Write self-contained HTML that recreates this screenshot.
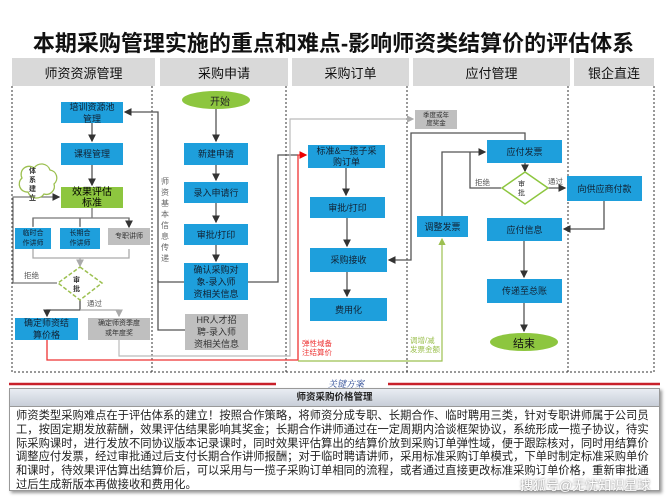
<!DOCTYPE html>
<html><head><meta charset="utf-8"><style>
*{margin:0;padding:0;box-sizing:border-box}
body{width:667px;height:500px;background:#fff;position:relative;overflow:hidden;font-family:"Liberation Sans","Noto Sans CJK SC",sans-serif}
.a{position:absolute}
.hd{position:absolute;top:58px;height:28px;background:#d9d9d9;font-size:13px;display:flex;align-items:center;justify-content:center;color:#111}
.b{position:absolute;background:#1e9fdc;color:#123;font-size:9px;display:flex;align-items:center;justify-content:center;text-align:center;line-height:12px}
.g{background:#bfbfbf;color:#333;font-size:8px}
.gr{background:#8dc63f;color:#000;font-size:10px}
.t{position:absolute;font-size:7.5px;color:#555}
</style></head><body>
<div class="a" style="left:0;top:26px;width:667px;text-align:center;font-size:22px;font-weight:bold;color:#111">本期采购管理实施的重点和难点-影响师资类结算价的评估体系</div>
<div class="hd" style="left:12px;width:143px">师资资源管理</div>
<div class="hd" style="left:160px;width:128px">采购申请</div>
<div class="hd" style="left:292px;width:117px">采购订单</div>
<div class="hd" style="left:413px;width:157px">应付管理</div>
<div class="hd" style="left:574px;width:80px">银企直连</div>
<svg class="a" style="left:0;top:0" width="667" height="500">
<defs>
<marker id="k" markerWidth="6" markerHeight="6" refX="5" refY="3" orient="auto"><path d="M0,0L6,3L0,6z" fill="#333"/></marker>
<marker id="r" markerWidth="6" markerHeight="6" refX="5" refY="3" orient="auto"><path d="M0,0L6,3L0,6z" fill="#e00"/></marker>
<marker id="l" markerWidth="6" markerHeight="6" refX="5" refY="3" orient="auto"><path d="M0,0L6,3L0,6z" fill="#aaa"/></marker>
<marker id="n" markerWidth="6" markerHeight="6" refX="5" refY="3" orient="auto"><path d="M0,0L6,3L0,6z" fill="#9cc050"/></marker>
</defs>
<g stroke="#333" stroke-width="1" stroke-dasharray="2,2" fill="none">
<path d="M12,86V372H654V86M152,86V372M286,86V372M407,86V372M568,86V372"/>
</g>
<g stroke="#555" stroke-width="1.3" fill="none">
<path d="M92,123V141" marker-end="url(#k)"/><path d="M92,165V185" marker-end="url(#k)"/>
<path d="M92,208V218M33,226V218H129V226M80,218V226" stroke="#777" />
<path d="M33,218V227M80,218V227M129,218V227" stroke="#777" marker-end="url(#k)"/>
<path d="M33,249V258H129V249M80,258V266" stroke="#aaa" marker-end="url(#l)"/>
<path d="M57,283H13V197H59" stroke="#777" marker-end="url(#k)"/>
<path d="M80,300V310H47V316" marker-end="url(#k)"/>
<path d="M80,310H119V316" stroke="#aaa" marker-end="url(#l)"/>
<path d="M216,108V141" marker-end="url(#k)"/><path d="M216,165V180" marker-end="url(#k)"/>
<path d="M216,203V222" marker-end="url(#k)"/><path d="M216,245V261" marker-end="url(#k)"/>
<path d="M184,282H158V112H125" marker-end="url(#k)"/>
<path d="M185,330H158V280"/>
<path d="M248,282H278V155H298"/>
<path d="M346,168V195" marker-end="url(#k)"/><path d="M347,218V246" marker-end="url(#k)"/>
<path d="M347,272V296" marker-end="url(#k)"/>
<path d="M525,140V133H411V260H389" marker-end="url(#k)"/>
<path d="M442,216V152H485" marker-end="url(#k)"/>
<path d="M501,188H470V152"/>
<path d="M525,163V171" marker-end="url(#k)"/>
<path d="M548,188H565" marker-end="url(#k)"/>
<path d="M604,201V229H564" marker-end="url(#k)"/>
<path d="M524,241V277" marker-end="url(#k)"/><path d="M524,303V331" marker-end="url(#k)"/>
</g>
<path d="M119,340V356H290V119H413" stroke="#bbb" stroke-width="1.2" fill="none" marker-end="url(#l)"/>
<path d="M47,340V360H298V155H306" stroke="#e33" stroke-width="1.3" fill="none" marker-end="url(#r)"/>
<path d="M298,361H442V239" stroke="#9cc050" stroke-width="1.2" fill="none" marker-end="url(#n)"/>
<ellipse cx="216" cy="100" rx="34" ry="9" fill="#8dc63f"/>
<ellipse cx="524" cy="342" rx="34" ry="9" fill="#8dc63f"/>
<path d="M80,267L102,283L80,300L58,283z" fill="#fff" stroke="#9cc050" stroke-width="1.5" stroke-dasharray="4,2"/>
<path d="M525,172L548,188L525,204L502,188z" fill="#fff" stroke="#8dc63f" stroke-width="1.5"/>
<path d="M22,178a8,8 0 0 1 12,-10a9,9 0 0 1 16,2a8,8 0 0 1 4,14a8,8 0 0 1 -10,10a9,9 0 0 1 -16,-2a8,8 0 0 1 -6,-14z" fill="#fff" stroke="#9cc050" stroke-width="1.3"/>
<path d="M9,384H276M388,384H660" stroke="#c8202a" stroke-width="2.5"/>
</svg>
<div class="t" style="left:29px;top:167px;font-size:7px;width:12px;line-height:9px;color:#333;font-weight:bold">体系建立</div>
<div class="b" style="left:61px;top:102px;width:62px;height:21px">培训资源池<br>管理</div>
<div class="b" style="left:61px;top:143px;width:62px;height:22px">课程管理</div>
<div class="b gr" style="left:61px;top:187px;width:62px;height:21px;line-height:11px">效果评估<br>标准</div>
<div class="b" style="left:15px;top:228px;width:36px;height:21px;font-size:7px;line-height:10px">临时合<br>作讲师</div>
<div class="b" style="left:60px;top:228px;width:40px;height:21px;font-size:7px;line-height:10px">长期合<br>作讲师</div>
<div class="b g" style="left:108px;top:228px;width:42px;height:17px;font-size:7px">专职讲师</div>
<div class="t" style="left:73px;top:276px;font-size:7px;color:#333;font-weight:bold;line-height:9px">审<br>批</div>
<div class="t" style="left:24px;top:270px">拒绝</div>
<div class="t" style="left:87px;top:298px">通过</div>
<div class="b" style="left:15px;top:318px;width:63px;height:22px">确定师资结<br>算价格</div>
<div class="b g" style="left:88px;top:318px;width:62px;height:22px;font-size:7px;line-height:10px">确定师资季度<br>或年度奖</div>
<div class="a" style="left:210px;top:93px;font-size:10px;color:#222">开始</div>
<div class="b" style="left:184px;top:143px;width:64px;height:22px">新建申请</div>
<div class="b" style="left:184px;top:182px;width:64px;height:21px">录入申请行</div>
<div class="b" style="left:184px;top:224px;width:64px;height:21px">审批/打印</div>
<div class="b" style="left:184px;top:263px;width:64px;height:37px">确认采购对<br>象-录入师<br>资相关信息</div>
<div class="b g" style="left:185px;top:314px;width:63px;height:36px;font-size:9px">HR人才招<br>聘-录入师<br>资相关信息</div>
<div class="t" style="left:161px;top:176px;width:10px;font-size:8px;line-height:11px;color:#666">师资基本信息传递</div>
<div class="b" style="left:308px;top:145px;width:77px;height:23px;line-height:11px">标准&amp;一揽子采<br>购订单</div>
<div class="b" style="left:310px;top:197px;width:75px;height:21px">审批/打印</div>
<div class="b" style="left:310px;top:248px;width:77px;height:24px">采购接收</div>
<div class="b" style="left:310px;top:298px;width:77px;height:23px">费用化</div>
<div class="t" style="left:302px;top:339px;color:#e33;line-height:9px">弹性域备<br>注结算价</div>
<div class="b g" style="left:415px;top:110px;width:42px;height:19px;font-size:6.5px;line-height:8px">季度或年<br>度奖金</div>
<div class="b" style="left:487px;top:140px;width:75px;height:23px">应付发票</div>
<div class="t" style="left:518px;top:180px;font-size:7px;color:#333;line-height:9px">审<br>批</div>
<div class="t" style="left:475px;top:177px">拒绝</div>
<div class="t" style="left:548px;top:176px">通过</div>
<div class="b" style="left:417px;top:216px;width:51px;height:21px">调整发票</div>
<div class="b" style="left:487px;top:218px;width:75px;height:23px">应付信息</div>
<div class="b" style="left:487px;top:279px;width:75px;height:24px">传递至总账</div>
<div class="a" style="left:513px;top:335px;font-size:11px;color:#111">结束</div>
<div class="t" style="left:410px;top:336px;color:#9cc050;line-height:9px">调增/减<br>发票金额</div>
<div class="b" style="left:567px;top:176px;width:75px;height:25px">向供应商付款</div>
<div class="a" style="left:316px;top:377px;width:60px;text-align:center;font-size:9px;font-style:italic;color:#1f3f8f;font-family:'Liberation Serif','Noto Serif CJK SC',serif">关键方案</div>
<div class="a" style="left:9px;top:388px;width:651px;height:103px;border:1px solid #999;box-shadow:2px 2px 3px #999"></div>
<div class="a" style="left:10px;top:389px;width:649px;height:18px;background:linear-gradient(#e9edf3,#c8ced8);border-bottom:1px solid #999;text-align:center;font-size:9.5px;font-weight:bold;line-height:18px;color:#222">师资采购价格管理</div>
<div class="a" style="left:16px;top:410px;width:642px;font-size:11.3px;line-height:13.8px;color:#222">师资类型采购难点在于评估体系的建立！按照合作策略，将师资分成专职、长期合作、临时聘用三类，针对专职讲师属于公司员工，按固定期发放薪酬，效果评估结果影响其奖金；长期合作讲师通过在一定周期内洽谈框架协议，系统形成一揽子协议，待实际采购课时，进行发放不同协议版本记录课时，同时效果评估算出的结算价放到采购订单弹性域，便于跟踪核对，同时用结算价调整应付发票，经过审批通过后支付长期合作讲师报酬；对于临时聘请讲师，采用标准采购订单模式，下单时制定标准采购单价和课时，待效果评估算出结算价后，可以采用与一揽子采购订单相同的流程，或者通过直接更改标准采购订单价格，重新审批通过后生成新版本再做接收和费用化。</div>
<div class="a" style="left:520px;top:475px;font-size:13px;color:#fff;text-shadow:0 0 2px #666">搜狐号@无忧知识星球</div>
</body></html>
